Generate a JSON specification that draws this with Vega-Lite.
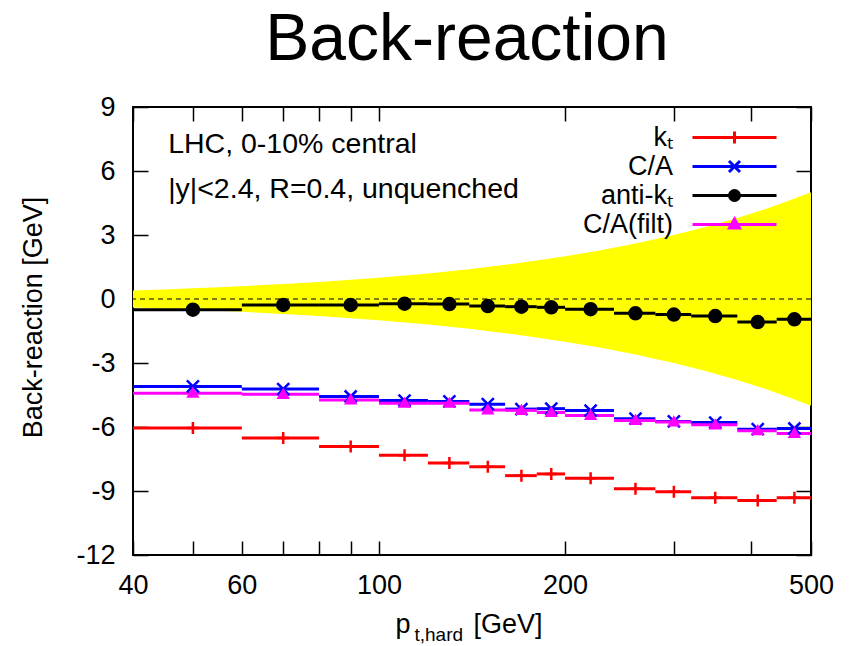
{
  "$schema": "https://vega.github.io/schema/vega-lite/v6.json",
  "autosize": {"type": "none"},
  "padding": {"left": 133, "top": 107, "right": 43, "bottom": 91},
  "width": 678,
  "height": 448,
  "background": "white",
  "title": {"text": "Back-reaction", "fontSize": 66, "font": "Liberation Sans", "fontWeight": "normal", "anchor": "middle", "offset": 19, "dx": -5, "color": "black"},
  "config": {
    "view": {"stroke": "black", "strokeWidth": 2},
    "axis": {"labelFont": "Liberation Sans", "labelFontSize": 27, "labelColor": "black", "titleFont": "Liberation Sans", "titleFontSize": 27, "titleFontWeight": "normal", "titleColor": "black", "tickColor": "black", "tickWidth": 1.5, "domain": false, "grid": false},
    "text": {"font": "Liberation Sans"}
  },
  "datasets": {
    "band": [
      {"pt": 40, "lo": -0.4, "hi": 0.4}, {"pt": 45, "lo": -0.45, "hi": 0.45}, {"pt": 50, "lo": -0.5, "hi": 0.5}, {"pt": 55, "lo": -0.55, "hi": 0.55},
      {"pt": 60, "lo": -0.6, "hi": 0.6}, {"pt": 70, "lo": -0.7, "hi": 0.7}, {"pt": 80, "lo": -0.8, "hi": 0.8}, {"pt": 90, "lo": -0.9, "hi": 0.9},
      {"pt": 100, "lo": -1.0, "hi": 1.0}, {"pt": 120, "lo": -1.2, "hi": 1.2}, {"pt": 140, "lo": -1.4, "hi": 1.4}, {"pt": 160, "lo": -1.6, "hi": 1.6},
      {"pt": 180, "lo": -1.8, "hi": 1.8}, {"pt": 200, "lo": -2.0, "hi": 2.0}, {"pt": 230, "lo": -2.3, "hi": 2.3}, {"pt": 260, "lo": -2.6, "hi": 2.6},
      {"pt": 300, "lo": -3.0, "hi": 3.0}, {"pt": 340, "lo": -3.4, "hi": 3.4}, {"pt": 380, "lo": -3.8, "hi": 3.8}, {"pt": 420, "lo": -4.2, "hi": 4.2},
      {"pt": 460, "lo": -4.6, "hi": 4.6}, {"pt": 500, "lo": -5.0, "hi": 5.0}
    ],
    "series": [
      {"series": "kₜ", "lo": 40, "hi": 60, "pt": 50, "y": -6.05},
      {"series": "kₜ", "lo": 60, "hi": 80, "pt": 70, "y": -6.52},
      {"series": "kₜ", "lo": 80, "hi": 100, "pt": 90, "y": -6.91},
      {"series": "kₜ", "lo": 100, "hi": 120, "pt": 110, "y": -7.33},
      {"series": "kₜ", "lo": 120, "hi": 140, "pt": 130, "y": -7.69},
      {"series": "kₜ", "lo": 140, "hi": 160, "pt": 150, "y": -7.86},
      {"series": "kₜ", "lo": 160, "hi": 180, "pt": 170, "y": -8.28},
      {"series": "kₜ", "lo": 180, "hi": 200, "pt": 190, "y": -8.2},
      {"series": "kₜ", "lo": 200, "hi": 240, "pt": 220, "y": -8.4},
      {"series": "kₜ", "lo": 240, "hi": 280, "pt": 260, "y": -8.9},
      {"series": "kₜ", "lo": 280, "hi": 320, "pt": 300, "y": -9.04},
      {"series": "kₜ", "lo": 320, "hi": 380, "pt": 350, "y": -9.32},
      {"series": "kₜ", "lo": 380, "hi": 440, "pt": 410, "y": -9.45},
      {"series": "kₜ", "lo": 440, "hi": 500, "pt": 470, "y": -9.32},
      {"series": "C/A", "lo": 40, "hi": 60, "pt": 50, "y": -4.1},
      {"series": "C/A", "lo": 60, "hi": 80, "pt": 70, "y": -4.22},
      {"series": "C/A", "lo": 80, "hi": 100, "pt": 90, "y": -4.57},
      {"series": "C/A", "lo": 100, "hi": 120, "pt": 110, "y": -4.76},
      {"series": "C/A", "lo": 120, "hi": 140, "pt": 130, "y": -4.8},
      {"series": "C/A", "lo": 140, "hi": 160, "pt": 150, "y": -4.93},
      {"series": "C/A", "lo": 160, "hi": 180, "pt": 170, "y": -5.16},
      {"series": "C/A", "lo": 180, "hi": 200, "pt": 190, "y": -5.14},
      {"series": "C/A", "lo": 200, "hi": 240, "pt": 220, "y": -5.23},
      {"series": "C/A", "lo": 240, "hi": 280, "pt": 260, "y": -5.61},
      {"series": "C/A", "lo": 280, "hi": 320, "pt": 300, "y": -5.74},
      {"series": "C/A", "lo": 320, "hi": 380, "pt": 350, "y": -5.79},
      {"series": "C/A", "lo": 380, "hi": 440, "pt": 410, "y": -6.1},
      {"series": "C/A", "lo": 440, "hi": 500, "pt": 470, "y": -6.07},
      {"series": "anti-kₜ", "lo": 40, "hi": 60, "pt": 50, "y": -0.5},
      {"series": "anti-kₜ", "lo": 60, "hi": 80, "pt": 70, "y": -0.28},
      {"series": "anti-kₜ", "lo": 80, "hi": 100, "pt": 90, "y": -0.28},
      {"series": "anti-kₜ", "lo": 100, "hi": 120, "pt": 110, "y": -0.22},
      {"series": "anti-kₜ", "lo": 120, "hi": 140, "pt": 130, "y": -0.24},
      {"series": "anti-kₜ", "lo": 140, "hi": 160, "pt": 150, "y": -0.33},
      {"series": "anti-kₜ", "lo": 160, "hi": 180, "pt": 170, "y": -0.36},
      {"series": "anti-kₜ", "lo": 180, "hi": 200, "pt": 190, "y": -0.39},
      {"series": "anti-kₜ", "lo": 200, "hi": 240, "pt": 220, "y": -0.48},
      {"series": "anti-kₜ", "lo": 240, "hi": 280, "pt": 260, "y": -0.67},
      {"series": "anti-kₜ", "lo": 280, "hi": 320, "pt": 300, "y": -0.73},
      {"series": "anti-kₜ", "lo": 320, "hi": 380, "pt": 350, "y": -0.8},
      {"series": "anti-kₜ", "lo": 380, "hi": 440, "pt": 410, "y": -1.08},
      {"series": "anti-kₜ", "lo": 440, "hi": 500, "pt": 470, "y": -0.95},
      {"series": "C/A(filt)", "lo": 40, "hi": 60, "pt": 50, "y": -4.42},
      {"series": "C/A(filt)", "lo": 60, "hi": 80, "pt": 70, "y": -4.47},
      {"series": "C/A(filt)", "lo": 80, "hi": 100, "pt": 90, "y": -4.73},
      {"series": "C/A(filt)", "lo": 100, "hi": 120, "pt": 110, "y": -4.89},
      {"series": "C/A(filt)", "lo": 120, "hi": 140, "pt": 130, "y": -4.89},
      {"series": "C/A(filt)", "lo": 140, "hi": 160, "pt": 150, "y": -5.2},
      {"series": "C/A(filt)", "lo": 160, "hi": 180, "pt": 170, "y": -5.22},
      {"series": "C/A(filt)", "lo": 180, "hi": 200, "pt": 190, "y": -5.32},
      {"series": "C/A(filt)", "lo": 200, "hi": 240, "pt": 220, "y": -5.46},
      {"series": "C/A(filt)", "lo": 240, "hi": 280, "pt": 260, "y": -5.69},
      {"series": "C/A(filt)", "lo": 280, "hi": 320, "pt": 300, "y": -5.76},
      {"series": "C/A(filt)", "lo": 320, "hi": 380, "pt": 350, "y": -5.9},
      {"series": "C/A(filt)", "lo": 380, "hi": 440, "pt": 410, "y": -6.17},
      {"series": "C/A(filt)", "lo": 440, "hi": 500, "pt": 470, "y": -6.3}
    ]
  },
  "resolve": {"axis": {"x": "independent", "y": "independent"}},
  "layer": [
    {
      "data": {"name": "band"},
      "mark": {"type": "area", "color": "#ffff00", "opacity": 1},
      "encoding": {
        "x": {"field": "pt", "type": "quantitative", "scale": {"type": "log", "domain": [40, 500], "nice": false},
          "axis": {"orient": "bottom", "values": [40, 50, 60, 70, 80, 90, 100, 200, 300, 400, 500],
            "labelExpr": "indexof([40, 60, 100, 200, 500], datum.value) >= 0 ? datum.value + '' : ''",
            "labelFlush": false, "labelOverlap": false, "tickSize": -14, "labelPadding": 31,
            "encode": {"ticks": {"update": {"y2": {"signal": "indexof([60, 100, 200], datum.value) >= 0 ? -14 : -7"}}}},
            "title": "p", "titleX": 262, "titleY": 77, "titleAlign": "left", "titleBaseline": "alphabetic", "titleAnchor": "start", "titleFontWeight": "normal"}},
        "y": {"field": "lo", "type": "quantitative", "scale": {"domain": [-12, 9], "nice": false, "zero": false},
          "axis": {"orient": "left", "values": [-12, -9, -6, -3, 0, 3, 6, 9], "labelExpr": "datum.value + ''",
            "tickSize": -15, "labelPadding": 33, "labelFlush": false, "labelOverlap": false,
            "title": "Back-reaction [GeV]", "titleX": -92, "titleY": 210, "titleAngle": -90, "titleAlign": "center", "titleBaseline": "alphabetic", "titleFontWeight": "normal"}},
        "y2": {"field": "hi"}
      }
    },
    {
      "data": {"values": [{}]},
      "mark": {"type": "rule", "color": "black", "strokeWidth": 1.2, "strokeDash": [5, 4]},
      "encoding": {
        "y": {"datum": 0, "type": "quantitative", "scale": {"domain": [-12, 9], "nice": false, "zero": false}, "axis": null}
      }
    },
    {
      "data": {"name": "series"},
      "mark": {"type": "rule", "strokeWidth": 3},
      "encoding": {
        "x": {"field": "lo", "type": "quantitative", "scale": {"type": "log", "domain": [40, 500], "nice": false},
          "axis": {"orient": "top", "values": [40, 50, 60, 70, 80, 90, 100, 200, 300, 400, 500], "labels": false, "tickSize": -14,
            "encode": {"ticks": {"update": {"y2": {"signal": "indexof([60, 100, 200], datum.value) >= 0 ? 14 : 7"}}}},
            "title": null}},
        "x2": {"field": "hi"},
        "y": {"field": "y", "type": "quantitative", "scale": {"domain": [-12, 9], "nice": false, "zero": false},
          "axis": {"orient": "right", "values": [-12, -9, -6, -3, 0, 3, 6, 9], "labels": false, "tickSize": -15, "title": null}},
        "stroke": {"field": "series", "type": "nominal", "scale": {"range": ["#0000ff", "#ff00ff", "#000000", "#ff0000"]}, "legend": null}
      }
    },
    {
      "data": {"name": "series"},
      "mark": {"type": "point", "filled": true, "opacity": 1, "strokeWidth": 2.5, "size": 144},
      "encoding": {
        "x": {"field": "pt", "type": "quantitative", "scale": {"type": "log", "domain": [40, 500], "nice": false},
          "axis": {"orient": "bottom", "ticks": false, "labels": false, "domain": false, "title": "t,hard", "titleFontSize": 19, "titleFontWeight": "normal", "titleX": 281, "titleY": 85, "titleAlign": "left", "titleBaseline": "alphabetic", "titleAnchor": "start"}},
        "y": {"field": "y", "type": "quantitative", "scale": {"domain": [-12, 9], "nice": false, "zero": false}, "axis": null},
        "stroke": {"field": "series", "type": "nominal", "scale": {"range": ["#0000ff", "#ff00ff", "#000000", "#ff0000"]}, "legend": null},
        "shape": {"field": "series", "type": "nominal", "scale": {"range": ["M-1,-1L1,1M-1,1L1,-1", "M0,-0.7L0.75,0.55L-0.75,0.55Z", "circle", "M-1,0H1M0,-1V1"]}, "legend": null},
        "fill": {"field": "series", "type": "nominal", "scale": {"domain": ["kₜ", "C/A", "anti-kₜ", "C/A(filt)"], "range": ["#ff0000", "#0000ff", "#000000", "#ff00ff"]},
          "legend": {"orient": "none", "legendX": 588, "legendY": 17, "title": null, "padding": 0,
            "labelFont": "Liberation Sans", "labelFontSize": 27, "labelColor": "black", "labelAlign": "right", "labelBaseline": "middle", "labelOffset": -75, "labelLimit": 300,
            "symbolSize": 100, "rowPadding": 1, "symbolStrokeWidth": 3, "symbolOpacity": 1,
            "encode": {"symbols": {"update": {
              "shape": {"signal": "datum.value === 'kₜ' ? 'M-8.4,0H8.4M0,-1.2V1.2' : datum.value === 'C/A' ? 'M-8.4,0H8.4M-1.1,-1.1L1.1,1.1M-1.1,1.1L1.1,-1.1' : datum.value === 'anti-kₜ' ? 'M-8.4,0H8.4M-1,0A1,1 0 1,0 1,0A1,1 0 1,0 -1,0Z' : 'M-8.4,0H8.4M0,-1.1L1,0.7L-1,0.7Z'"},
              "stroke": {"signal": "datum.value === 'kₜ' ? '#ff0000' : datum.value === 'C/A' ? '#0000ff' : datum.value === 'anti-kₜ' ? '#000000' : '#ff00ff'"},
              "strokeWidth": {"value": 3},
              "size": {"value": 100},
              "opacity": {"value": 1}
            }}}}}
      }
    },
    {
      "data": {"values": [{}]},
      "mark": {"type": "text", "align": "left", "baseline": "alphabetic", "fontSize": 28.5, "color": "black"},
      "encoding": {
        "x": {"datum": 45.6, "type": "quantitative", "scale": {"type": "log", "domain": [40, 500], "nice": false},
          "axis": {"orient": "bottom", "ticks": false, "labels": false, "domain": false, "title": "[GeV]", "titleX": 340, "titleY": 77, "titleAlign": "left", "titleBaseline": "alphabetic", "titleAnchor": "start", "titleFontWeight": "normal"}},
        "y": {"datum": 6.84, "type": "quantitative", "scale": {"domain": [-12, 9], "nice": false, "zero": false}, "axis": null},
        "text": {"value": "LHC, 0-10% central"}
      }
    },
    {
      "data": {"values": [{}]},
      "mark": {"type": "text", "align": "left", "baseline": "alphabetic", "fontSize": 28.5, "color": "black"},
      "encoding": {
        "x": {"datum": 45.6, "type": "quantitative", "scale": {"type": "log", "domain": [40, 500], "nice": false}, "axis": null},
        "y": {"datum": 4.75, "type": "quantitative", "scale": {"domain": [-12, 9], "nice": false, "zero": false}, "axis": null},
        "text": {"value": "|y|<2.4, R=0.4, unquenched"}
      }
    }
  ]
}
